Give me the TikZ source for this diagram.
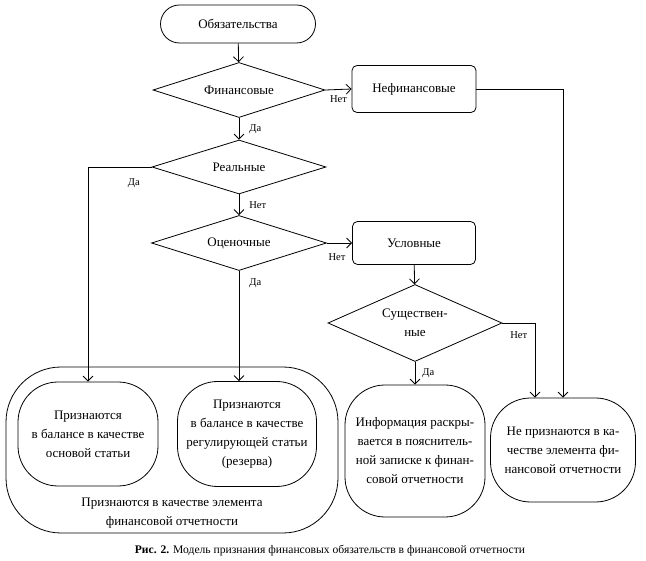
\documentclass[tikz,border=0pt]{standalone}
\usepackage{fontspec}
\setmainfont{Liberation Serif}
\usepackage{tikz}
\usetikzlibrary{arrows,arrows.meta,calc,shapes.geometric,shapes.misc}
\tikzset{
	txt/.style = {font=\fontsize{13}{19}\selectfont, align=center, inner sep=0pt},
	yesno/.style = {font=\fontsize{10.5}{12}\selectfont, inner sep=2pt}
}

\begin{document}
\begin{tikzpicture}[x=1pt, y=-1pt, line width=0.8pt, >={Straight Barb[length=5pt,width=10pt]}]
    \tikzset{decision/.style={diamond,aspect=3.2,draw,txt,inner sep=0pt},
             box/.style={rectangle,draw,rounded corners=5pt,txt},
             barrel/.style={rectangle,draw,rounded corners=40pt,txt}}
    \useasboundingbox (0,0) rectangle (646,561);
    % Nodes
    \node (obyaz) [rounded rectangle, draw, txt, minimum width=155pt, minimum height=38pt] at (238,24) {Обязательства};
    \node (fin) [decision, minimum width=172pt, minimum height=55pt] at (239,90) {Финансовые};
    \node (nefin) [box, minimum width=124pt, minimum height=47pt] at (414,89) {Нефинансовые};
    \node (real) [decision, minimum width=174pt, minimum height=54pt] at (239,167) {Реальные};
    \node (ocen) [decision, minimum width=175pt, minimum height=55pt] at (239,243) {Оценочные};
    \node (uslov) [box, minimum width=123pt, minimum height=43pt] at (414,243) {Условные};
    \node (sush) [decision, aspect=2.2, minimum width=174pt, minimum height=77pt] at (415,323) {Существен-\\ные};

    \node (outer) [rectangle, draw, rounded corners=55pt, minimum width=332pt, minimum height=166pt] at (172,450) {};
    \node (osnov) [barrel, minimum width=140pt, minimum height=104pt] at (88,434) {Признаются\\в балансе в качестве\\основой статьи};
    \node (rezerv) [barrel, minimum width=139pt, minimum height=105pt] at (247,434) {Признаются\\в балансе в качестве\\регулирующей статьи\\(резерва)};
    \node (element) [txt] at (172,513) {Признаются в качестве элемента\\финансовой отчетности};
    \node (info) [barrel, minimum width=140pt, minimum height=132pt] at (415,451) {Информация раскры-\\вается в пояснитель-\\ной записке к финан-\\совой отчетности};
    \node (nepriz) [barrel, minimum width=145pt, minimum height=104pt] at (563,450) {Не признаются в ка-\\честве элемента фи-\\нансовой отчетности};

    \node (caption) [font=\fontsize{11.6}{13}\selectfont, inner sep=0pt] at (330,551) {\textbf{Рис. 2.} Модель признания финансовых обязательств в финансовой отчетности};

    % Arrows
    \draw [->] (obyaz) to (fin);
    \draw [->] (fin.east) -- node[yesno, below=4pt, pos=0.5] {Нет} (nefin.west);
    \draw [->] (nefin.east) -| (nepriz.north);
    \draw [->] (fin.south) -- node[yesno, right=8pt] {Да} (real.north);
    \draw [->] (real.west) -| node[yesno, below=9pt, pos=0.14] {Да} (osnov.north);
    \draw [->] (real.south) -- node[yesno, right=8pt] {Нет} (ocen.north);
    \draw [->] (ocen.east) -- node[yesno, below=8pt, pos=0.4] {Нет} (uslov.west);
    \draw [->] (ocen.south) -- node[yesno, right=8pt, pos=0.11] {Да} (ocen.south |- rezerv.north);
    \draw [->] (uslov) to (sush);
    \draw [->] (sush.south) -- node[yesno, right=5pt] {Да} (info.north);
    \draw [->] (sush.east) -| node[yesno, below=6pt, pos=0.25] {Нет} ([xshift=-28pt]nepriz.north);

\end{tikzpicture}
\end{document}
